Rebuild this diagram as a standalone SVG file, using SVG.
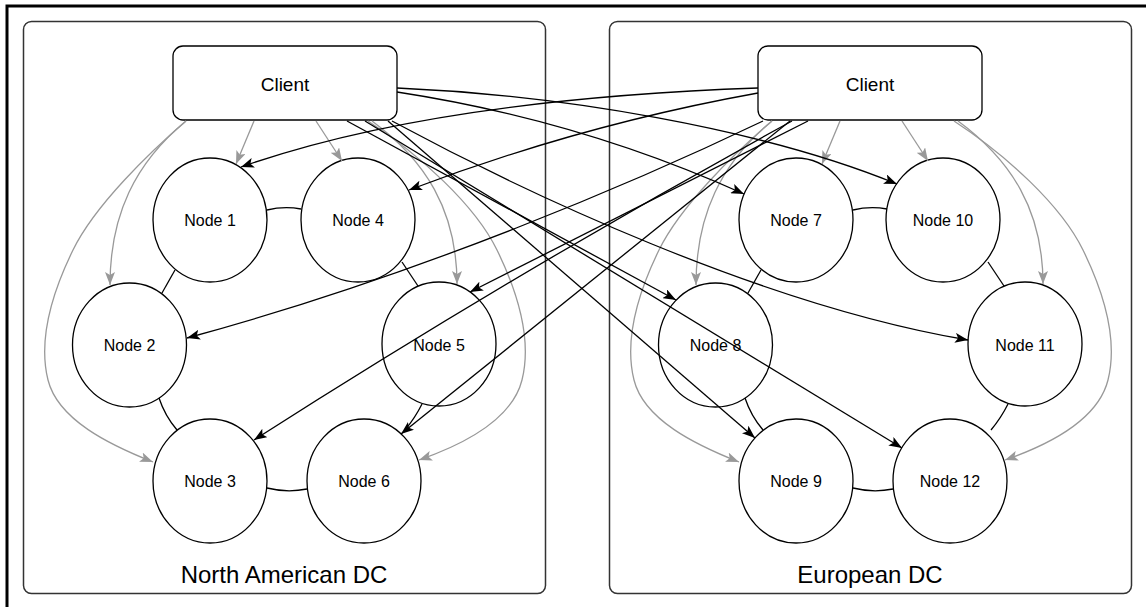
<svg xmlns="http://www.w3.org/2000/svg" width="1146" height="607" viewBox="0 0 1146 607">
  <defs>
    <style>
      .frame { fill: none; stroke: #000; stroke-width: 3; }
      .dc { fill: #fff; stroke: #333; stroke-width: 1.5; }
      .client { fill: #fff; stroke: #000; stroke-width: 1.3; }
      .node { fill: #fff; stroke: #000; stroke-width: 1.3; }
      .label { font-family: "Liberation Sans", Arial, Helvetica, sans-serif; fill: #000; text-anchor: middle; }
      .node-label { font-size: 16px; }
      .client-label { font-size: 19px; }
      .dc-label { font-size: 24px; }
      .ring { fill: none; stroke: #000; stroke-width: 1.3; }
      .local { fill: none; stroke: #999; stroke-width: 1.3; marker-end: url(#arrowGray); }
      .remote { fill: none; stroke: #000; stroke-width: 1.3; marker-end: url(#arrowBlack); }
    </style>
    <marker id="arrowBlack" markerUnits="userSpaceOnUse" markerWidth="14" markerHeight="10" viewBox="0 0 14 10" refX="13" refY="5" orient="auto">
      <path d="M0,0 L13,5 L0,10 L3,5 z" fill="#000"/>
    </marker>
    <marker id="arrowGray" markerUnits="userSpaceOnUse" markerWidth="14" markerHeight="10" viewBox="0 0 14 10" refX="13" refY="5" orient="auto">
      <path d="M0,0 L13,5 L0,10 L3,5 z" fill="#999"/>
    </marker>
  </defs>

  <rect width="1146" height="607" fill="#fff"/>
  <!-- outer border -->
  <path class="frame" d="M7,607 L7,6 L1146,6"/>

  <!-- data centres -->
  <g id="dc-north-america">
    <rect class="dc" x="23.5" y="21.5" width="522" height="572" rx="8"/>
    <text class="label dc-label" x="284" y="583">North American DC</text>
  </g>
  <g id="dc-europe">
    <rect class="dc" x="609.5" y="21.5" width="522" height="572" rx="8"/>
    <text class="label dc-label" x="870" y="583">European DC</text>
  </g>

  <!-- clients -->
  <g id="client-na">
    <rect class="client" x="173" y="46" width="224" height="74" rx="10"/>
    <text class="label client-label" x="285" y="91">Client</text>
  </g>
  <g id="client-eu">
    <rect class="client" x="758" y="46" width="224" height="74" rx="10"/>
    <text class="label client-label" x="870" y="91">Client</text>
  </g>

  <!-- nodes, North America -->
  <g id="node-1"><ellipse class="node" cx="210" cy="220" rx="57" ry="62"/><text class="label node-label" x="210" y="226">Node 1</text></g>
  <g id="node-2"><ellipse class="node" cx="129.5" cy="345" rx="57" ry="62"/><text class="label node-label" x="129.5" y="351">Node 2</text></g>
  <g id="node-3"><ellipse class="node" cx="210" cy="481" rx="57" ry="62"/><text class="label node-label" x="210" y="487">Node 3</text></g>
  <g id="node-4"><ellipse class="node" cx="358" cy="220" rx="57" ry="62"/><text class="label node-label" x="358" y="226">Node 4</text></g>
  <g id="node-5"><ellipse class="node" cx="439" cy="344" rx="57" ry="62"/><text class="label node-label" x="439" y="351">Node 5</text></g>
  <g id="node-6"><ellipse class="node" cx="364" cy="481" rx="57" ry="62"/><text class="label node-label" x="364" y="487">Node 6</text></g>
  <!-- nodes, Europe -->
  <g id="node-7"><ellipse class="node" cx="796" cy="220" rx="57" ry="62"/><text class="label node-label" x="796" y="226">Node 7</text></g>
  <g id="node-8"><ellipse class="node" cx="715.5" cy="345" rx="57" ry="62"/><text class="label node-label" x="715.5" y="351">Node 8</text></g>
  <g id="node-9"><ellipse class="node" cx="796" cy="481" rx="57" ry="62"/><text class="label node-label" x="796" y="487">Node 9</text></g>
  <g id="node-10"><ellipse class="node" cx="943" cy="220" rx="57" ry="62"/><text class="label node-label" x="943" y="226">Node 10</text></g>
  <g id="node-11"><ellipse class="node" cx="1025" cy="344" rx="57" ry="62"/><text class="label node-label" x="1025" y="351">Node 11</text></g>
  <g id="node-12"><ellipse class="node" cx="950" cy="481" rx="57" ry="62"/><text class="label node-label" x="950" y="487">Node 12</text></g>

  <!-- connectors, drawn over the nodes -->
  <g id="connectors">
    <!-- ring links, North America -->
    <path class="ring" d="M267,210 Q284,206 301,209"/>
    <path class="ring" d="M175,270 L162,293"/>
    <path class="ring" d="M159,398 Q165,416 177,430"/>
    <path class="ring" d="M267,488 Q287,493 307,489"/>
    <path class="ring" d="M402,262 L418,286"/>
    <path class="ring" d="M422,404 Q415,418 405,430"/>
    <!-- ring links, Europe -->
    <path class="ring" d="M853,210 Q870,206 887,209"/>
    <path class="ring" d="M761,270 L748,293"/>
    <path class="ring" d="M745,398 Q751,416 763,430"/>
    <path class="ring" d="M853,488 Q873,493 893,489"/>
    <path class="ring" d="M988,262 L1004,286"/>
    <path class="ring" d="M1008,404 Q1001,418 991,430"/>

    <!-- local client requests, North America -->
    <path class="local" d="M254,121 L236,164"/>
    <path class="local" d="M316,121 L342,161"/>
    <path class="local" d="M186,121 C135,163 110,215 110,285"/>
    <path class="local" d="M186,121 C150,152 95,205 73,250 C51,295 38,340 48,380 C58,420 110,445 153,462"/>
    <path class="local" d="M372,121 C425,160 457,210 457,284"/>
    <path class="local" d="M368,121 C420,155 475,205 497,250 C519,295 532,340 522,380 C512,420 462,445 419,460"/>
    <!-- local client requests, Europe -->
    <path class="local" d="M840,121 L822,164"/>
    <path class="local" d="M902,121 L928,161"/>
    <path class="local" d="M772,121 C721,163 696,215 696,285"/>
    <path class="local" d="M772,121 C736,152 681,205 659,250 C637,295 624,340 634,380 C644,420 696,445 739,462"/>
    <path class="local" d="M958,121 C1011,160 1043,210 1043,284"/>
    <path class="local" d="M954,121 C1006,155 1061,205 1083,250 C1105,295 1118,340 1108,380 C1098,420 1048,445 1005,460"/>

    <!-- cross-DC requests from the European client -->
    <path class="remote" d="M758,88 C560,95 380,118 241,167"/>
    <path class="remote" d="M758,93 Q580,125 409,190"/>
    <path class="remote" d="M763,121 C640,180 420,275 187,338"/>
    <path class="remote" d="M808,121 L470,292"/>
    <path class="remote" d="M792,121 Q520,270 254,440"/>
    <path class="remote" d="M790,121 L401,434"/>
    <!-- cross-DC requests from the North American client -->
    <path class="remote" d="M397,88 C560,95 760,128 897,184"/>
    <path class="remote" d="M397,92 Q580,120 744,194"/>
    <path class="remote" d="M392,121 C520,190 760,305 968,340"/>
    <path class="remote" d="M347,121 L676,300"/>
    <path class="remote" d="M365,121 L902,448"/>
    <path class="remote" d="M388,121 L755,438"/>
  </g>
</svg>
